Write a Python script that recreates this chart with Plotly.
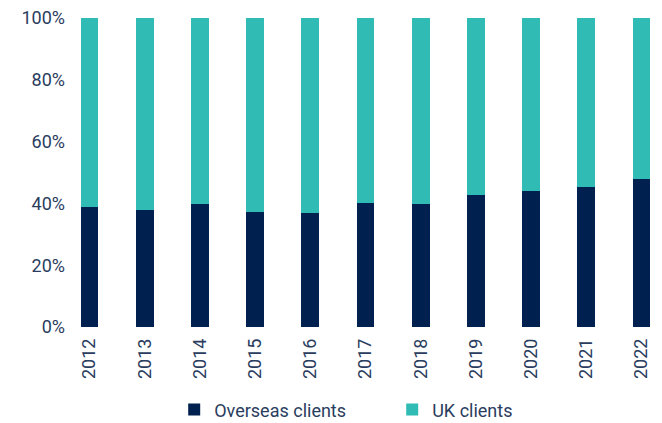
import plotly.graph_objects as go

years = ["2012", "2013", "2014", "2015", "2016", "2017", "2018", "2019", "2020", "2021", "2022"]
overseas = [0.389, 0.379, 0.399, 0.373, 0.368, 0.402, 0.399, 0.428, 0.439, 0.454, 0.480]
uk = [round(1 - v, 3) for v in overseas]
tick_vals = [0, 0.2, 0.4, 0.6, 0.8, 1.0]
tick_text = ["0%", "20%", "40%", "60%", "80%", "100%"]

NAVY = "#00214f"
TEAL = "#30bcb4"
TXT = "#2a3d5e"
FONT = "Roboto"

fig = go.Figure()
fig.add_trace(go.Bar(x=years, y=overseas, name="Overseas clients", marker=dict(color=NAVY, line=dict(width=0))))
fig.add_trace(go.Bar(x=years, y=uk, name="UK clients", marker=dict(color=TEAL, line=dict(width=0))))

fig.update_layout(
    width=662, height=423,
    barmode="stack", bargap=0.68,
    margin=dict(l=60, r=12, t=10, b=104, pad=0, autoexpand=False),
    paper_bgcolor="white", plot_bgcolor="white",
    font=dict(family=FONT, size=18, color=TXT),
    showlegend=True,
    legend=dict(orientation="h", x=0.18, xanchor="left", y=-0.268, yanchor="middle",
                font=dict(family=FONT, size=18, color=TXT),
                entrywidth=173, entrywidthmode="pixels", traceorder="normal",
                bgcolor="rgba(0,0,0,0)"),
    xaxis=dict(type="category", range=[-0.39, 10.30], tickangle=-90, showgrid=False,
               showline=False, zeroline=False, ticks="", ticklabelstandoff=7, automargin=False,
               ticklabeloverflow="allow",
               tickfont=dict(family=FONT, size=18, color=TXT)),
    yaxis=dict(range=[0, 1], tickvals=tick_vals, ticktext=tick_text, showgrid=False,
               showline=False, zeroline=False, ticks="", ticklabelstandoff=2, automargin=False,
               ticklabeloverflow="allow",
               tickfont=dict(family=FONT, size=18, color=TXT)),
)

fig.write_html("out.html")
